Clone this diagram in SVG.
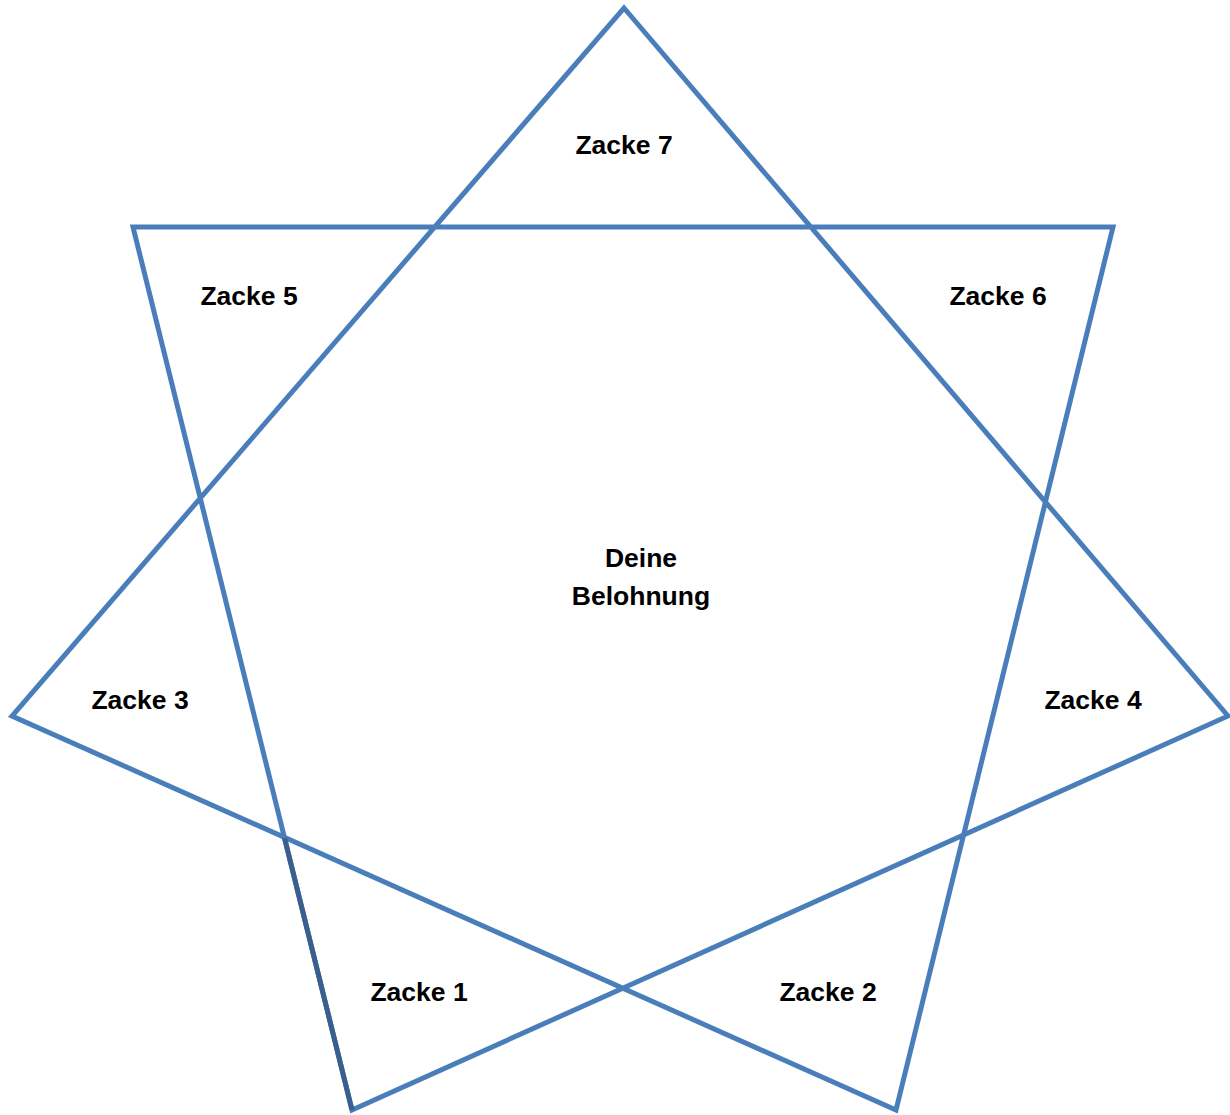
<svg xmlns="http://www.w3.org/2000/svg" width="1230" height="1115" viewBox="0 0 1230 1115">
<style>
.l{fill:none;stroke:#4a7ebb;stroke-width:5;stroke-linejoin:miter}
.d{stroke:#3a5f8f;stroke-width:5;fill:none}
text{font-family:"Liberation Sans",Arial,sans-serif;font-weight:bold;font-size:26.5px;fill:#000;text-anchor:middle}
</style>
<rect width="1230" height="1115" fill="#fff"/>
<g id="connectors">
<polygon class="l" points="624,8 1228,716 352,1110 133,227 1113,227 896,1110 12,716"/>
<line class="d" x1="284.5" y1="838" x2="352" y2="1110"/>
</g>
<g id="zacke7"><text x="624" y="154">Zacke 7</text></g>
<g id="zacke5"><text x="249" y="305">Zacke 5</text></g>
<g id="zacke6"><text x="998" y="305">Zacke 6</text></g>
<g id="center"><text x="641" y="567">Deine</text><text x="641" y="605">Belohnung</text></g>
<g id="zacke3"><text x="140" y="709">Zacke 3</text></g>
<g id="zacke4"><text x="1093" y="709">Zacke 4</text></g>
<g id="zacke1"><text x="419" y="1001">Zacke 1</text></g>
<g id="zacke2"><text x="828" y="1001">Zacke 2</text></g>
</svg>
